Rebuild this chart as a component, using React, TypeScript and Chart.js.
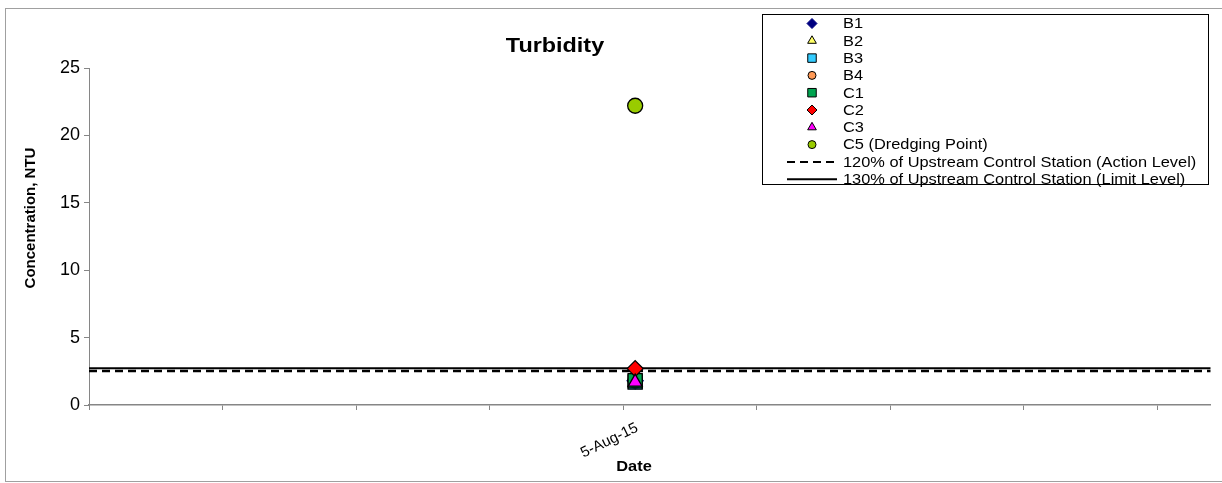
import React, { useEffect, useRef } from 'react';
import { Chart, registerables } from 'chart.js';
import { drawPoint } from 'chart.js/helpers';

Chart.register(...registerables);

// ---------- data ----------
const chartTitle = 'Turbidity';
const yAxisTitle = 'Concentration, NTU';
const xAxisTitle = 'Date';
const dateLabels = ['5-Aug-15'];
// position of each sampling date on the date axis (in major units)
const sampleDates = [4.09];

const seriesLabels = ['B1', 'B2', 'B3', 'B4', 'C1', 'C2', 'C3', 'C5 (Dredging Point)'];
const b1Values = [1.8];
const b2Values = [1.7];
const b3Values = [1.7];
const b4Values = [1.8];
const c1Values = [1.8];
const c2Values = [2.7];
const c3Values = [1.7];
const c5Values = [22.2];

const levelLabels = [
  '120% of Upstream Control Station (Action Level)',
  '130% of Upstream Control Station (Limit Level)',
];
const levelRange = [0, 8.4];
const actionLevel = [2.52, 2.52];
const limitLevel = [2.73, 2.73];

const xTickPositions = [0, 1, 2, 3, 4, 5, 6, 7, 8];
const yMin = 0;
const yMax = 25;
const yStep = 5;

// ---------- styles ----------
const FONT = '"Liberation Sans", Arial, Helvetica, sans-serif';
const STRETCH = 1.17;

const seriesStyles = [
  { pointStyle: 'rectRot', fill: '#000080', stroke: '#000080', r: 8, lr: 5 },
  { pointStyle: 'triangle', fill: '#ffff66', stroke: '#000000', r: 8, lr: 5 },
  { pointStyle: 'rect', fill: '#33ccff', stroke: '#000000', r: 10, lr: 6 },
  { pointStyle: 'circle', fill: '#ff9955', stroke: '#000000', r: 7, lr: 4 },
  { pointStyle: 'rect', fill: '#00a550', stroke: '#000000', r: 10, lr: 6 },
  { pointStyle: 'rectRot', fill: '#ff0000', stroke: '#000000', r: 8, lr: 5 },
  { pointStyle: 'triangle', fill: '#ff00ff', stroke: '#000000', r: 8, lr: 5 },
  { pointStyle: 'circle', fill: '#99cc00', stroke: '#000000', r: 7.5, lr: 4 },
];
const seriesValues = [b1Values, b2Values, b3Values, b4Values, c1Values, c2Values, c3Values, c5Values];

const decorPlugin = {
  id: 'decor',
  afterDraw(chart: any) {
    const ctx: CanvasRenderingContext2D = chart.ctx;
    const xs = chart.scales.x;
    ctx.save();

    // outer frame
    ctx.strokeStyle = '#a0a0a0';
    ctx.lineWidth = 1;
    ctx.strokeRect(5.5, 8.5, 1400, 473);

    // title
    ctx.fillStyle = '#000';
    ctx.font = `bold 20px ${FONT}`;
    ctx.textAlign = 'center';
    ctx.textBaseline = 'middle';
    ctx.save();
    ctx.translate(555, 46);
    ctx.scale(STRETCH, 1);
    ctx.fillText(chartTitle, 0, 0);
    ctx.restore();

    // y axis title
    ctx.save();
    ctx.font = `bold 15px ${FONT}`;
    ctx.translate(31, 218);
    ctx.rotate(-Math.PI / 2);
    ctx.fillText(yAxisTitle, 0, 0);
    ctx.restore();

    // x axis title
    ctx.save();
    ctx.font = `bold 14px ${FONT}`;
    ctx.translate(634, 467);
    ctx.scale(STRETCH, 1);
    ctx.fillText(xAxisTitle, 0, 0);
    ctx.restore();

    // date labels
    ctx.save();
    ctx.font = `15px ${FONT}`;
    ctx.textAlign = 'right';
    dateLabels.forEach((lab, i) => {
      const px = xs.getPixelForValue(sampleDates[i]);
      ctx.save();
      ctx.translate(px + 2, xs.top + 22);
      ctx.rotate((-26 * Math.PI) / 180);
      ctx.fillText(lab, 0, 0);
      ctx.restore();
    });
    ctx.restore();

    // legend
    const lx = 762, ly = 14, lw = 446, lh = 170;
    ctx.fillStyle = '#fff';
    ctx.fillRect(lx, ly, lw, lh);
    ctx.strokeStyle = '#000';
    ctx.lineWidth = 1;
    ctx.strokeRect(lx + 0.5, ly + 0.5, lw, lh);
    const rowY = (i: number) => 23.5 + i * 17.3;
    const markerX = 812;
    const textX = 843;
    ctx.font = `14px ${FONT}`;
    ctx.textAlign = 'left';
    ctx.textBaseline = 'middle';
    seriesLabels.forEach((lab, i) => {
      const st = seriesStyles[i];
      ctx.fillStyle = st.fill;
      ctx.strokeStyle = st.stroke;
      ctx.lineWidth = 1;
      drawPoint(ctx, { pointStyle: st.pointStyle as any, radius: st.lr, rotation: 0, borderWidth: 1 } as any, markerX, rowY(i));
      ctx.fillStyle = '#000';
      ctx.save();
      ctx.translate(textX, rowY(i) + 1);
      ctx.scale(STRETCH, 1);
      ctx.fillText(lab, 0, 0);
      ctx.restore();
    });
    levelLabels.forEach((lab, j) => {
      const y = rowY(seriesLabels.length + j);
      ctx.strokeStyle = '#000';
      ctx.lineWidth = 2;
      ctx.setLineDash(j === 0 ? [8, 5] : []);
      ctx.beginPath();
      ctx.moveTo(787, y);
      ctx.lineTo(837, y);
      ctx.stroke();
      ctx.setLineDash([]);
      ctx.fillStyle = '#000';
      ctx.save();
      ctx.translate(textX, y + 1);
      ctx.scale(STRETCH, 1);
      ctx.fillText(lab, 0, 0);
      ctx.restore();
    });

    ctx.restore();
  },
};

export default function App() {
  const canvasRef = useRef<HTMLCanvasElement | null>(null);

  useEffect(() => {
    if (!canvasRef.current) return;
    const n = seriesLabels.length;
    const pointSets = seriesLabels.map((lab, i) => {
      const st = seriesStyles[i];
      return {
        label: lab,
        data: seriesValues[i].map((v, k) => ({ x: sampleDates[k], y: v })),
        pointStyle: st.pointStyle,
        pointRadius: st.r,
        pointBorderWidth: 1.3,
        backgroundColor: st.fill,
        borderColor: st.stroke,
        showLine: false,
        order: n - i + 1,
      };
    });
    const lineSets = [
      {
        label: levelLabels[0],
        data: levelRange.map((x, k) => ({ x, y: actionLevel[k] })),
        showLine: true,
        borderColor: '#000',
        borderWidth: 2.5,
        borderDash: [8, 5],
        pointRadius: 0,
        order: n + 10,
      },
      {
        label: levelLabels[1],
        data: levelRange.map((x, k) => ({ x, y: limitLevel[k] })),
        showLine: true,
        borderColor: '#000',
        borderWidth: 2,
        pointRadius: 0,
        order: n + 11,
      },
    ];

    const chart = new Chart(canvasRef.current, {
      type: 'scatter',
      data: { datasets: [...pointSets, ...lineSets] as any },
      options: {
        animation: false,
        responsive: true,
        maintainAspectRatio: false,
        layout: { padding: { top: 68, right: 10, left: 0, bottom: 0 } },
        plugins: { legend: { display: false }, tooltip: { enabled: false }, title: { display: false } },
        scales: {
          x: {
            type: 'linear',
            min: levelRange[0],
            max: levelRange[1],
            afterFit: (s: any) => { s.height = 78; },
            afterBuildTicks: (s: any) => { s.ticks = xTickPositions.map((v) => ({ value: v })); },
            ticks: { display: false },
            grid: { display: true, drawOnChartArea: false, drawTicks: true, tickLength: 5, color: '#868686' },
            border: { display: true, color: '#868686', width: 1.5 },
          },
          y: {
            type: 'linear',
            min: yMin,
            max: yMax,
            afterFit: (s: any) => { s.width = 89; },
            ticks: { stepSize: yStep, color: '#000', padding: 4, font: { family: FONT, size: 18 } },
            grid: { display: true, drawOnChartArea: false, drawTicks: true, tickLength: 5, color: '#868686' },
            border: { display: true, color: '#868686', width: 1 },
          },
        },
      },
      plugins: [decorPlugin],
    });
    return () => chart.destroy();
  }, []);

  return (
    <div style={{ position: 'fixed', left: 0, top: 0, width: 1222, height: 483, background: '#fff' }}>
      <canvas ref={canvasRef} />
    </div>
  );
}
